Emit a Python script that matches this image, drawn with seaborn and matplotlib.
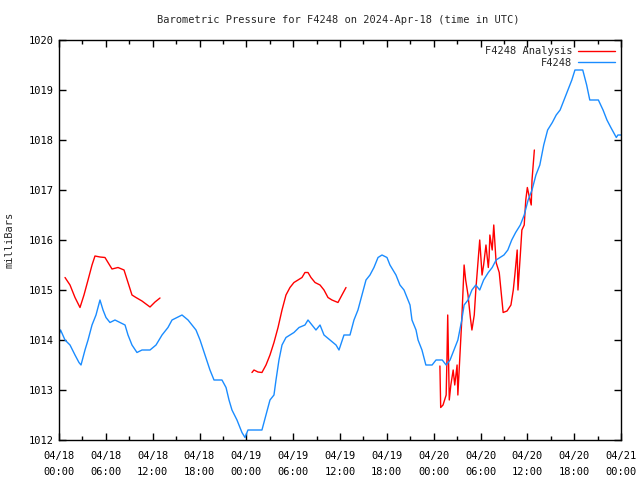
import numpy as np
import pandas as pd
import matplotlib
matplotlib.use('Agg')
import matplotlib.pyplot as plt
import seaborn as sns
from matplotlib.lines import Line2D

# observed pressure, hours since 2024-04-18 00:00 UTC
obs_hours = [0, 0.2, 0.77, 1.41, 2.05, 2.56, 2.82, 3.33, 3.72, 4.23, 4.74, 5.25, 5.64, 6.02,
             6.53, 7.17, 7.81, 8.46, 8.84, 9.35, 9.99, 10.63, 11.66, 12.43, 13.2, 13.96,
             14.48, 15.12, 15.76, 16.53, 17.04, 17.55, 18.07, 18.7, 19.34, 19.86, 20.88,
             21.4, 21.78, 22.16, 22.8, 23.44, 23.83, 24.21, 26.0, 26.52, 27.03, 27.54,
             27.8, 28.18, 28.57, 29.08, 29.59, 30.1, 30.75, 31.51, 31.9, 32.41, 32.92,
             33.44, 33.95, 34.72, 35.49, 35.87, 36.51, 37.28, 37.79, 38.3, 38.82, 39.33,
             39.84, 40.35, 40.87, 41.38, 42.02, 42.4, 43.17, 43.68, 44.2, 44.71, 44.97,
             45.22, 45.74, 46.0, 46.5, 47.0, 47.8, 48.3, 49.1, 49.6, 50.1, 50.6, 51.1,
             51.6, 51.9, 52.4, 52.9, 53.4, 53.9, 54.4, 55.0, 55.5, 56.0, 56.5, 57.0,
             57.5, 58.0, 58.5, 59.1, 59.6, 60.1, 60.6, 61.1, 61.6, 62.1, 62.6, 63.2,
             63.7, 64.2, 64.7, 65.2, 65.7, 66.1, 67.1, 67.6, 68.0, 69.1, 69.7, 70.2,
             70.7, 71.4, 71.6, 72.0]
obs_mbar = [1014.1, 1014.2, 1014.0, 1013.9, 1013.7, 1013.55, 1013.5, 1013.8, 1014.0, 1014.3,
            1014.5, 1014.8, 1014.6, 1014.45, 1014.35, 1014.4, 1014.35, 1014.3, 1014.1,
            1013.9, 1013.75, 1013.8, 1013.8, 1013.9, 1014.1, 1014.25, 1014.4, 1014.45,
            1014.5, 1014.4, 1014.3, 1014.2, 1014.0, 1013.7, 1013.4, 1013.2, 1013.2,
            1013.05, 1012.8, 1012.6, 1012.4, 1012.15, 1012.05, 1012.2, 1012.2, 1012.5,
            1012.8, 1012.9, 1013.2, 1013.6, 1013.9, 1014.05, 1014.1, 1014.15, 1014.25,
            1014.3, 1014.4, 1014.3, 1014.2, 1014.3, 1014.1, 1014.0, 1013.9, 1013.8,
            1014.1, 1014.1, 1014.4, 1014.6, 1014.9, 1015.2, 1015.3, 1015.45, 1015.65,
            1015.7, 1015.65, 1015.5, 1015.3, 1015.1, 1015.0, 1014.8, 1014.7, 1014.4,
            1014.2, 1014.0, 1013.8, 1013.5, 1013.5, 1013.6, 1013.6, 1013.5, 1013.6,
            1013.8, 1014.0, 1014.4, 1014.7, 1014.8, 1015.0, 1015.1, 1015.0, 1015.2,
            1015.35, 1015.45, 1015.6, 1015.65, 1015.7, 1015.8, 1016.0, 1016.15, 1016.3,
            1016.5, 1016.8, 1017.0, 1017.3, 1017.5, 1017.9, 1018.2, 1018.35, 1018.5,
            1018.6, 1018.8, 1019.0, 1019.2, 1019.4, 1019.4, 1019.1, 1018.8, 1018.8,
            1018.6, 1018.4, 1018.25, 1018.05, 1018.1, 1018.1]

# analysis pressure, three separate runs
ana1_hours = [0.77, 1.41, 2.05, 2.69, 3.2, 3.72, 4.23, 4.61, 5.25, 5.89, 6.28, 6.79, 7.56,
              8.33, 8.84, 9.35, 9.86, 10.63, 11.66, 12.3, 12.94]
ana1_mbar = [1015.25, 1015.1, 1014.85, 1014.65, 1014.9, 1015.2, 1015.5, 1015.68, 1015.66,
             1015.65, 1015.55, 1015.42, 1015.45, 1015.4, 1015.15, 1014.9, 1014.85, 1014.78,
             1014.66, 1014.76, 1014.84]
ana2_hours = [24.72, 24.98, 25.49, 26.0, 26.52, 27.03, 27.54, 28.06, 28.57, 29.08, 29.59,
              30.1, 30.62, 31.13, 31.51, 31.9, 32.28, 32.8, 33.44, 33.95, 34.46, 34.97,
              35.74, 36.25, 36.77]
ana2_mbar = [1013.35, 1013.4, 1013.36, 1013.35, 1013.5, 1013.7, 1013.95, 1014.25, 1014.6,
             1014.9, 1015.05, 1015.15, 1015.2, 1015.25, 1015.35, 1015.35, 1015.25, 1015.15,
             1015.1, 1015.0, 1014.85, 1014.8, 1014.75, 1014.9, 1015.05]
ana3_hours = [48.8, 48.9, 49.2, 49.6, 49.7, 49.8, 50.0, 50.2, 50.5, 50.7, 51.0, 51.1, 51.4,
              51.6, 51.9, 52.1, 52.4, 52.7, 52.9, 53.2, 53.4, 53.7, 53.9, 54.2, 54.4, 54.7,
              55.0, 55.1, 55.2, 55.5, 55.7, 56.0, 56.4, 56.9, 57.4, 57.9, 58.2, 58.4, 58.7,
              58.8, 59.1, 59.3, 59.6, 59.8, 60.0, 60.2, 60.5, 60.6, 60.9]
ana3_mbar = [1013.48, 1012.65, 1012.7, 1012.9, 1013.6, 1014.5, 1012.8, 1013.1, 1013.4,
             1013.1, 1013.5, 1012.9, 1013.8, 1014.4, 1015.5, 1015.2, 1014.9, 1014.45,
             1014.2, 1014.5, 1015.0, 1015.6, 1016.0, 1015.3, 1015.5, 1015.9, 1015.45,
             1015.65, 1016.1, 1015.8, 1016.3, 1015.55, 1015.35, 1014.55, 1014.58, 1014.7,
             1015.0, 1015.3, 1015.8, 1015.0, 1015.7, 1016.2, 1016.3, 1016.8, 1017.05,
             1016.9, 1016.7, 1017.2, 1017.8]

tick_labels = ['04/18\n00:00', '04/18\n06:00', '04/18\n12:00', '04/18\n18:00',
               '04/19\n00:00', '04/19\n06:00', '04/19\n12:00', '04/19\n18:00',
               '04/20\n00:00', '04/20\n06:00', '04/20\n12:00', '04/20\n18:00',
               '04/21\n00:00']

RED = '#ff0000'
BLUE = '#1a8cff'

obs = pd.DataFrame({'hours': obs_hours, 'mbar': obs_mbar})
ana = pd.concat([
    pd.DataFrame({'hours': ana1_hours, 'mbar': ana1_mbar, 'run': 1}),
    pd.DataFrame({'hours': ana2_hours, 'mbar': ana2_mbar, 'run': 2}),
    pd.DataFrame({'hours': ana3_hours, 'mbar': ana3_mbar, 'run': 3}),
])

sns.set_style('ticks')
plt.rcParams['font.family'] = ['DejaVu Sans Mono']
plt.rcParams['font.size'] = 7.5

fig = plt.figure(figsize=(6.4, 4.8), dpi=100)
ax = fig.add_axes([59 / 640, 40 / 480, 562 / 640, 400 / 480])

sns.lineplot(data=ana, x='hours', y='mbar', units='run', estimator=None, sort=False,
             color=RED, linewidth=1, ax=ax, legend=False)
sns.lineplot(data=obs, x='hours', y='mbar', estimator=None, sort=False,
             color=BLUE, linewidth=1, ax=ax, legend=False)

ax.set_xlim(0, 72)
ax.set_ylim(1012, 1020)
ax.set_xticks(np.arange(0, 73, 6))
ax.set_xticks(np.arange(0, 73, 3), minor=True)
ax.set_xticklabels(tick_labels, linespacing=1.7)
ax.set_yticks(np.arange(1012, 1021, 1))
ax.set_yticklabels([str(v) for v in range(1012, 1021)])
ax.tick_params(axis='both', which='both', direction='in', top=True, right=True,
               length=5, width=1, colors='black', labelsize=7.5, pad=4)
ax.tick_params(axis='x', which='major', pad=8)
ax.tick_params(axis='x', which='minor', length=3)
for s in ax.spines.values():
    s.set_color('black')
    s.set_linewidth(1)

ax.set_xlabel('')
ax.set_ylabel('milliBars', fontsize=7.5, labelpad=10)
fig.text(338 / 640, 1 - 20 / 480, 'Barometric Pressure for F4248 on 2024-Apr-18 (time in UTC)',
         ha='center', va='center', fontsize=7.5)

handles = [Line2D([], [], color=RED, linewidth=1), Line2D([], [], color=BLUE, linewidth=1)]
leg = ax.legend(handles, ['F4248 Analysis', 'F4248'], loc='upper right', frameon=False,
                markerfirst=False, handlelength=3.5, handletextpad=0.6,
                labelspacing=0.15, borderaxespad=0.2, fontsize=7.5)
for t in leg.get_texts():
    t.set_ha('right')

fig.savefig('out.png', dpi=100)
